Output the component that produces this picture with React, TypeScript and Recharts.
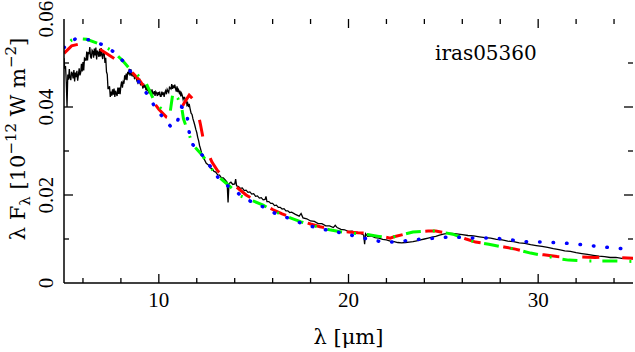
import { Line, LineChart, ReferenceLine, XAxis, YAxis } from 'recharts';

type Pt = [number, number];

// observed spectrum (black)
const OBSERVED: Pt[] = [
  [5.0, 0.0511], [5.04, 0.0487], [5.08, 0.0493], [5.12, 0.0457], [5.16, 0.04], [5.2, 0.0474],
  [5.24, 0.0462], [5.28, 0.0486], [5.32, 0.0466], [5.36, 0.0461], [5.4, 0.048], [5.44, 0.0476],
  [5.48, 0.0465], [5.52, 0.0484], [5.56, 0.0458], [5.6, 0.0478], [5.64, 0.0468], [5.68, 0.0482],
  [5.72, 0.046], [5.76, 0.0473], [5.8, 0.0488], [5.84, 0.0472], [5.88, 0.0478], [5.92, 0.0498],
  [5.96, 0.0481], [6.0, 0.0502], [6.04, 0.0483], [6.08, 0.0511], [6.12, 0.0509], [6.16, 0.0505],
  [6.2, 0.0526], [6.24, 0.0506], [6.28, 0.0525], [6.32, 0.052], [6.36, 0.0536], [6.4, 0.0514],
  [6.44, 0.051], [6.48, 0.0529], [6.52, 0.0526], [6.56, 0.0512], [6.6, 0.0533], [6.64, 0.0517],
  [6.68, 0.0535], [6.72, 0.0508], [6.76, 0.0528], [6.8, 0.0523], [6.84, 0.0514], [6.88, 0.0532],
  [6.92, 0.0515], [6.96, 0.0534], [7.0, 0.0517], [7.04, 0.0509], [7.08, 0.0527], [7.12, 0.0522],
  [7.16, 0.05], [7.2, 0.0512], [7.24, 0.048], [7.28, 0.0474], [7.32, 0.0442], [7.36, 0.0442],
  [7.4, 0.0447], [7.44, 0.0423], [7.48, 0.0435], [7.52, 0.0426], [7.56, 0.044], [7.6, 0.0428],
  [7.64, 0.0442], [7.68, 0.0423], [7.72, 0.0437], [7.76, 0.043], [7.8, 0.0425], [7.84, 0.0444],
  [7.88, 0.043], [7.92, 0.0444], [7.96, 0.0429], [8.0, 0.0449], [8.04, 0.0458], [8.08, 0.0444],
  [8.12, 0.0457], [8.16, 0.0453], [8.2, 0.0472], [8.24, 0.0462], [8.28, 0.0476], [8.32, 0.0461],
  [8.36, 0.048], [8.4, 0.0474], [8.44, 0.0487], [8.48, 0.0471], [8.52, 0.0486], [8.56, 0.0473],
  [8.6, 0.0476], [8.64, 0.0469], [8.68, 0.0476], [8.72, 0.0463], [8.76, 0.0469], [8.8, 0.0469],
  [8.84, 0.046], [8.88, 0.0456], [8.92, 0.0466], [8.96, 0.0456], [9.0, 0.046], [9.04, 0.0449],
  [9.08, 0.0455], [9.12, 0.0452], [9.16, 0.0442], [9.2, 0.0453], [9.24, 0.0444], [9.28, 0.045],
  [9.32, 0.0438], [9.36, 0.0443], [9.4, 0.0436], [9.44, 0.0444], [9.48, 0.0431], [9.52, 0.044],
  [9.56, 0.0437], [9.6, 0.0429], [9.64, 0.044], [9.68, 0.043], [9.72, 0.043], [9.76, 0.0436],
  [9.8, 0.0425], [9.84, 0.0435], [9.88, 0.0432], [9.92, 0.0425], [9.96, 0.0434], [10.0, 0.0427],
  [10.04, 0.0435], [10.08, 0.0424], [10.12, 0.0424], [10.16, 0.0435], [10.2, 0.0427], [10.24, 0.0433],
  [10.28, 0.0423], [10.32, 0.0433], [10.36, 0.0437], [10.4, 0.0429], [10.44, 0.044], [10.48, 0.0436],
  [10.52, 0.0433], [10.56, 0.0445], [10.6, 0.0443], [10.64, 0.0441], [10.68, 0.0452], [10.72, 0.0441],
  [10.76, 0.0449], [10.8, 0.0443], [10.84, 0.0451], [10.88, 0.0442], [10.92, 0.0435], [10.96, 0.0447],
  [11.0, 0.0434], [11.04, 0.0439], [11.08, 0.0432], [11.12, 0.0437], [11.16, 0.0424], [11.2, 0.0431],
  [11.24, 0.0426], [11.28, 0.0417], [11.32, 0.0422], [11.36, 0.0422], [11.4, 0.0412], [11.44, 0.0419],
  [11.48, 0.0405], [11.52, 0.0409], [11.56, 0.04], [11.6, 0.0407], [11.65, 0.0396], [11.7, 0.0386],
  [11.75, 0.0383], [11.8, 0.0373], [11.85, 0.0366], [11.9, 0.0358], [11.95, 0.0349], [12.0, 0.0342],
  [12.05, 0.0331], [12.1, 0.0323], [12.15, 0.0312], [12.2, 0.0305], [12.25, 0.0296], [12.3, 0.0291],
  [12.35, 0.0283], [12.4, 0.0281], [12.5, 0.0272], [12.6, 0.0269], [12.7, 0.0262], [12.8, 0.026],
  [12.9, 0.0254], [13.0, 0.0252], [13.1, 0.0246], [13.2, 0.0245], [13.3, 0.0239], [13.4, 0.0239],
  [13.5, 0.0234], [13.6, 0.0229], [13.65, 0.0183], [13.7, 0.0226], [13.8, 0.0229], [13.9, 0.0224],
  [14.0, 0.0225], [14.05, 0.0236], [14.1, 0.0221], [14.2, 0.0219], [14.3, 0.0215], [14.4, 0.0216],
  [14.5, 0.021], [14.6, 0.0211], [14.7, 0.0206], [14.8, 0.0207], [14.9, 0.0202], [15.0, 0.0203],
  [15.1, 0.0197], [15.2, 0.0198], [15.3, 0.0193], [15.4, 0.0194], [15.5, 0.0189], [15.6, 0.019],
  [15.65, 0.0197], [15.7, 0.0185], [15.8, 0.0185], [15.9, 0.0181], [16.0, 0.0181], [16.1, 0.0176],
  [16.2, 0.0177], [16.3, 0.0172], [16.4, 0.0172], [16.5, 0.0168], [16.6, 0.0169], [16.7, 0.0164],
  [16.8, 0.0164], [16.9, 0.016], [17.0, 0.0161], [17.2, 0.0156], [17.4, 0.0152], [17.5, 0.0158],
  [17.6, 0.0148], [17.8, 0.0146], [18.0, 0.0141], [18.2, 0.014], [18.4, 0.0135], [18.6, 0.0135],
  [18.8, 0.013], [19.0, 0.013], [19.2, 0.0126], [19.3, 0.0131], [19.4, 0.0126], [19.6, 0.0122],
  [19.8, 0.0121], [20.0, 0.0117], [20.2, 0.0118], [20.4, 0.0113], [20.6, 0.0114], [20.8, 0.0109],
  [20.85, 0.0088], [20.9, 0.0112], [21.0, 0.0106], [21.2, 0.0107], [21.4, 0.0103], [21.6, 0.0102],
  [21.8, 0.0099], [22.0, 0.0098], [22.2, 0.0095], [22.4, 0.0094], [22.6, 0.0092], [22.8, 0.0091],
  [23.0, 0.0092], [23.2, 0.0093], [23.4, 0.0094], [23.6, 0.0096], [23.8, 0.0098], [24.0, 0.01],
  [24.2, 0.0102], [24.4, 0.0104], [24.6, 0.0106], [24.8, 0.0109], [25.0, 0.0111], [25.2, 0.0113],
  [25.4, 0.0113], [25.6, 0.0112], [25.8, 0.0111], [26.0, 0.011], [26.3, 0.0108], [26.6, 0.0107],
  [26.9, 0.0105], [27.2, 0.0103], [27.5, 0.0102], [27.8, 0.0099], [28.1, 0.0098], [28.4, 0.0095],
  [28.7, 0.0094], [29.0, 0.0091], [29.3, 0.009], [29.6, 0.0087], [29.9, 0.0085], [30.2, 0.0083],
  [30.5, 0.0081], [30.8, 0.0078], [31.1, 0.0076], [31.4, 0.0073], [31.7, 0.0072], [32.0, 0.0069],
  [32.3, 0.0067], [32.6, 0.0065], [32.9, 0.0063], [33.2, 0.0061], [33.5, 0.006], [33.8, 0.0058],
  [34.1, 0.0058], [34.4, 0.0056], [34.7, 0.0057], [35.0, 0.0055],
];

// model 1 (red, dashed)
const MODEL_RED: Pt[] = [
  [5.0, 0.0522], [5.4, 0.0539], [5.8, 0.0543], [6.3, 0.0541], [6.9, 0.0531], [7.7, 0.0509],
  [8.5, 0.0483], [9.0, 0.046], [9.4, 0.0435], [9.7, 0.0412], [10.0, 0.0395], [10.4, 0.0377],
  [10.75, 0.0372], [11.05, 0.0386], [11.35, 0.041], [11.6, 0.0427], [11.8, 0.0418], [12.0, 0.04],
  [12.2, 0.0359], [12.4, 0.0314], [12.8, 0.0275], [13.1, 0.0255], [13.5, 0.0239], [14.1, 0.0218],
  [14.6, 0.02], [15.0, 0.019], [15.5, 0.0179], [16.0, 0.0167], [16.5, 0.0157], [17.0, 0.0149],
  [17.5, 0.0141], [18.0, 0.0134], [18.5, 0.0128], [19.0, 0.0123], [19.5, 0.0119], [20.0, 0.0116],
  [20.5, 0.0114], [21.0, 0.0113], [21.6, 0.0107], [22.2, 0.0102], [22.4, 0.0105], [23.4, 0.0116],
  [24.2, 0.0118], [24.6, 0.0118], [25.5, 0.0111], [26.2, 0.01], [26.7, 0.0093], [27.4, 0.0089],
  [28.2, 0.0082], [28.8, 0.0077], [29.6, 0.0068], [30.3, 0.0064], [31.0, 0.006], [31.5, 0.0059],
  [32.3, 0.0059], [33.0, 0.0058], [33.4, 0.0059], [34.1, 0.0058], [35.0, 0.0056],
];

// model 2 (green, dash-dot)
const MODEL_GREEN: Pt[] = [
  [5.0, 0.0536], [5.4, 0.0552], [5.6, 0.0556], [6.2, 0.0554], [7.0, 0.0541], [7.6, 0.0526],
  [8.1, 0.0505], [8.5, 0.0485], [8.9, 0.0472], [9.35, 0.0452], [9.8, 0.041], [10.2, 0.0393],
  [10.6, 0.0389], [10.75, 0.0435], [11.0, 0.042], [11.2, 0.04], [11.3, 0.0373], [11.5, 0.0348],
  [11.8, 0.0314], [12.3, 0.029], [12.7, 0.0264], [13.05, 0.0245], [13.6, 0.0225], [14.3, 0.0198],
  [15.0, 0.0186], [15.5, 0.0177], [16.0, 0.0165], [16.5, 0.0155], [17.0, 0.0147], [17.5, 0.0139],
  [18.0, 0.0132], [18.5, 0.0126], [19.0, 0.0121], [19.5, 0.0117], [20.0, 0.0114], [20.5, 0.0112],
  [21.0, 0.011], [21.6, 0.0106], [22.2, 0.0102], [22.4, 0.0105], [23.4, 0.0116], [24.2, 0.0118],
  [24.6, 0.0118], [25.5, 0.0111], [26.2, 0.01], [26.7, 0.0093], [27.4, 0.0088], [28.2, 0.0081],
  [28.8, 0.0077], [29.6, 0.0068], [30.3, 0.0062], [31.0, 0.0056], [31.6, 0.0052], [32.5, 0.005],
  [33.4, 0.005], [34.1, 0.005], [35.0, 0.0049],
];

// model 3 (blue, dotted)
const MODEL_BLUE: Pt[] = [
  [5.0, 0.0535], [5.6, 0.0555], [6.3, 0.0553], [7.0, 0.0542], [7.6, 0.0526], [8.1, 0.0505],
  [8.5, 0.0481], [9.0, 0.0454], [9.4, 0.0428], [9.8, 0.04], [10.2, 0.0377], [10.7, 0.0352],
  [11.0, 0.037], [11.2, 0.04], [11.35, 0.0396], [11.5, 0.0377], [11.6, 0.0343], [11.8, 0.0314],
  [12.3, 0.029], [12.7, 0.0266], [13.1, 0.0241], [13.6, 0.0222], [14.3, 0.02], [14.9, 0.0184],
  [15.5, 0.0173], [16.1, 0.0159], [16.8, 0.0148], [17.5, 0.0136], [18.2, 0.0127], [18.9, 0.012],
  [19.6, 0.0114], [20.3, 0.0107], [21.0, 0.01], [21.7, 0.0094], [22.5, 0.0093], [23.2, 0.0097],
  [23.9, 0.01], [24.6, 0.0102], [25.4, 0.0105], [26.1, 0.0103], [26.8, 0.0102], [27.5, 0.0102],
  [28.3, 0.01], [29.0, 0.0095], [29.7, 0.0093], [30.4, 0.0093], [31.2, 0.0091], [31.9, 0.0089],
  [32.6, 0.0086], [33.3, 0.0082], [34.0, 0.008], [34.7, 0.0077], [35.0, 0.0076],
];

const X_TICKS = [6, 8, 10, 12, 14, 16, 18, 20, 22, 24, 26, 28, 30, 32, 34];
const X_LABELS = [10, 20, 30];
const Y_TICKS = [0.01, 0.02, 0.03, 0.04, 0.05];
const Y_LABELS = [0, 0.02, 0.04, 0.06];

const X_DOMAIN: [number, number] = [5, 35];
const Y_DOMAIN: [number, number] = [0, 0.06];

// plot box in pixels, used only to turn tick lengths (px) into data units
const PLOT_W = 569;
const PLOT_H = 264;
const MAJOR = 9;
const MINOR = 5;
const dxPx = (px: number) => (px * (X_DOMAIN[1] - X_DOMAIN[0])) / PLOT_W;
const dyPx = (px: number) => (px * (Y_DOMAIN[1] - Y_DOMAIN[0])) / PLOT_H;

const toRows = (pts: Pt[]) => pts.map(([x, y]) => ({ x, y }));

const TICK_FONT = '"Liberation Serif", serif';
const LABEL_FONT = '"DejaVu Serif", serif';

function XLabelTick(props: any) {
  const { x, y, payload } = props;
  return (
    <text x={x} y={y + 24} textAnchor="middle" fontFamily={TICK_FONT} fontSize={21} fill="#000">
      {payload.value}
    </text>
  );
}

function YLabelTick(props: any) {
  const { x, y, payload } = props;
  const v = payload.value;
  const label = v === 0 ? '0' : v.toFixed(2);
  return (
    <text
      x={x - 11}
      y={y}
      transform={`rotate(-90 ${x - 11} ${y})`}
      textAnchor="middle"
      fontFamily={TICK_FONT}
      fontSize={21}
      fill="#000"
    >
      {label}
    </text>
  );
}

function YTitle() {
  return (
    <text
      x={25}
      y={139}
      transform="rotate(-90 25 139)"
      textAnchor="middle"
      fontFamily={LABEL_FONT}
      fontSize={21}
      fill="#000"
    >
      λ F
      <tspan fontSize={15} dy={5}>λ</tspan>
      <tspan dy={-5}> [10</tspan>
      <tspan fontSize={15} dy={-9}>−12</tspan>
      <tspan dy={9}> W m</tspan>
      <tspan fontSize={15} dy={-9}>−2</tspan>
      <tspan dy={9}>]</tspan>
    </text>
  );
}

const frame = { stroke: '#000', strokeWidth: 1.5 };

export default function App() {
  const xLen = (v: number) => (v % 10 === 0 ? MAJOR : MINOR);
  const yLen = (v: number) => (Math.abs(v / 0.02 - Math.round(v / 0.02)) < 1e-6 ? MAJOR : MINOR);

  return (
    <div style={{ width: 635, height: 352, background: '#fff', position: 'relative' }}>
      <style>{'body{margin:0}'}</style>
      <LineChart width={635} height={352} margin={{ top: 19, right: 2, bottom: 0, left: 0 }}>
        <XAxis
          xAxisId="b"
          dataKey="x"
          type="number"
          domain={X_DOMAIN}
          ticks={X_LABELS}
          allowDataOverflow
          height={69}
          tickSize={0}
          tickMargin={0}
          tickLine={false}
          axisLine={frame}
          tick={(p: any) => <XLabelTick {...p} />}
          interval={0}
          label={{
            value: 'λ [μm]',
            position: 'insideBottom',
            offset: 8,
            fontFamily: LABEL_FONT,
            fontSize: 21,
            fill: '#000',
          }}
        />
        <XAxis
          xAxisId="t"
          orientation="top"
          dataKey="x"
          type="number"
          domain={X_DOMAIN}
          allowDataOverflow
          height={0}
          tick={false}
          tickLine={false}
          axisLine={frame}
        />
        <YAxis
          yAxisId="l"
          type="number"
          domain={Y_DOMAIN}
          ticks={Y_LABELS}
          allowDataOverflow
          width={64}
          tickSize={0}
          tickMargin={0}
          tickLine={false}
          axisLine={frame}
          tick={(p: any) => <YLabelTick {...p} />}
          interval={0}
          label={<YTitle />}
        />
        <YAxis
          yAxisId="r"
          orientation="right"
          type="number"
          domain={Y_DOMAIN}
          allowDataOverflow
          width={0}
          tick={false}
          tickLine={false}
          axisLine={frame}
        />

        {/* inward tick marks on all four sides */}
        {X_TICKS.map((v) => (
          <ReferenceLine
            key={`xb${v}`}
            xAxisId="b"
            yAxisId="l"
            segment={[{ x: v, y: Y_DOMAIN[0] }, { x: v, y: Y_DOMAIN[0] + dyPx(xLen(v)) }]}
            stroke="#000"
            strokeWidth={1.3}
          />
        ))}
        {X_TICKS.map((v) => (
          <ReferenceLine
            key={`xt${v}`}
            xAxisId="b"
            yAxisId="l"
            segment={[{ x: v, y: Y_DOMAIN[1] }, { x: v, y: Y_DOMAIN[1] - dyPx(xLen(v)) }]}
            stroke="#000"
            strokeWidth={1.3}
          />
        ))}
        {Y_TICKS.map((v) => (
          <ReferenceLine
            key={`yl${v}`}
            xAxisId="b"
            yAxisId="l"
            segment={[{ x: X_DOMAIN[0], y: v }, { x: X_DOMAIN[0] + dxPx(yLen(v)), y: v }]}
            stroke="#000"
            strokeWidth={1.3}
          />
        ))}
        {Y_TICKS.map((v) => (
          <ReferenceLine
            key={`yr${v}`}
            xAxisId="b"
            yAxisId="l"
            segment={[{ x: X_DOMAIN[1], y: v }, { x: X_DOMAIN[1] - dxPx(yLen(v)), y: v }]}
            stroke="#000"
            strokeWidth={1.3}
          />
        ))}

        <Line
          xAxisId="b"
          yAxisId="l"
          data={toRows(OBSERVED)}
          dataKey="y"
          type="linear"
          stroke="#000"
          strokeWidth={1.3}
          dot={false}
          isAnimationActive={false}
        />
        <Line
          xAxisId="b"
          yAxisId="l"
          data={toRows(MODEL_RED)}
          dataKey="y"
          type="linear"
          stroke="#ff0000"
          strokeWidth={3}
          strokeDasharray="17 23"
          dot={false}
          isAnimationActive={false}
        />
        <Line
          xAxisId="b"
          yAxisId="l"
          data={toRows(MODEL_GREEN)}
          dataKey="y"
          type="linear"
          stroke="#00ff00"
          strokeWidth={3}
          strokeDasharray="15 12 2 11"
          strokeDashoffset={-22}
          dot={false}
          isAnimationActive={false}
        />
        <Line
          xAxisId="b"
          yAxisId="l"
          data={toRows(MODEL_BLUE)}
          dataKey="y"
          type="linear"
          stroke="#0000ff"
          strokeWidth={3.5}
          strokeLinecap="round"
          strokeDasharray="0.5 13"
          dot={false}
          isAnimationActive={false}
        />
      </LineChart>
      <svg
        width={635}
        height={352}
        style={{ position: 'absolute', left: 0, top: 0, pointerEvents: 'none' }}
      >
        <text x={435} y={60} fontFamily={LABEL_FONT} fontSize={20} fill="#000">
          iras05360
        </text>
      </svg>
    </div>
  );
}
